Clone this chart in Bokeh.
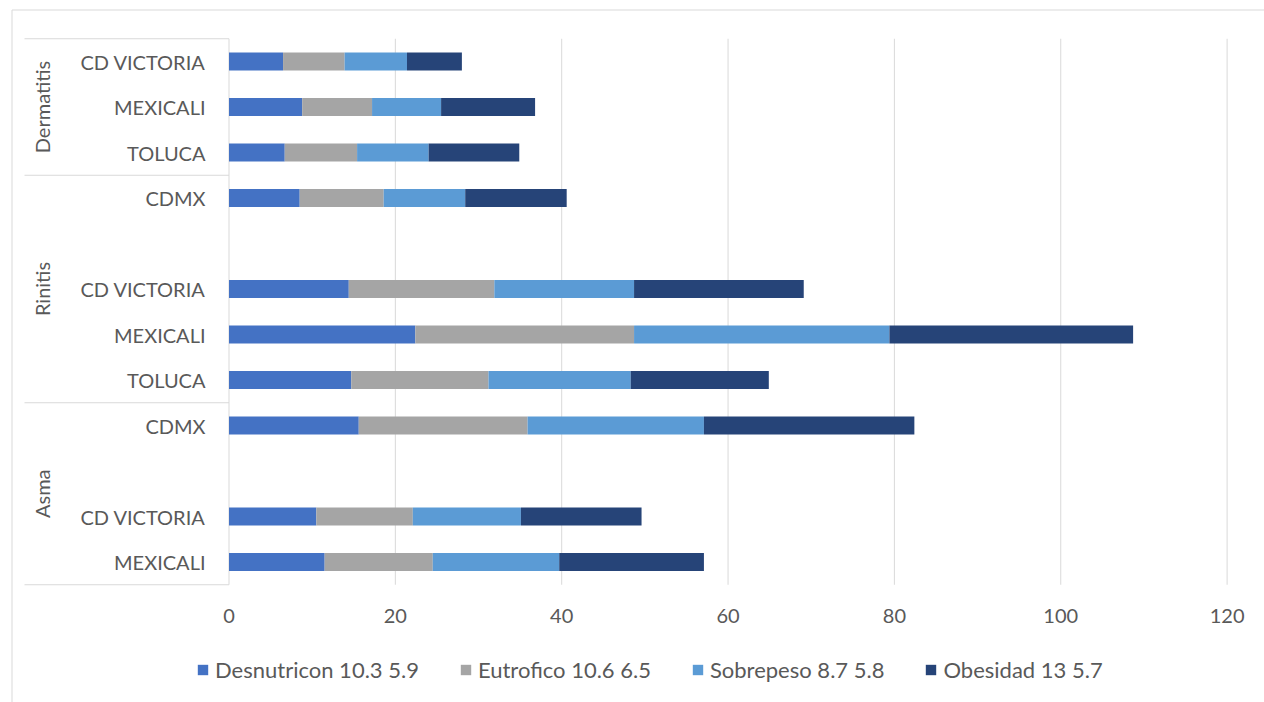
import math
from bokeh.plotting import figure
from bokeh.models import ColumnDataSource, Range1d, Legend, LegendItem
from bokeh.embed import file_html
from bokeh.resources import INLINE
from bokeh.core.properties import value

# ---------------- data (bottom row first) ----------------
groups = ["Asma", "Asma", "Asma", "Asma",
          "Rinitis", "Rinitis", "Rinitis", "Rinitis", "Rinitis",
          "Dermatitis", "Dermatitis", "Dermatitis"]
cities = ["MEXICALI", "CD VICTORIA", "", "CDMX",
          "TOLUCA", "MEXICALI", "CD VICTORIA", "", "CDMX",
          "TOLUCA", "MEXICALI", "CD VICTORIA"]
series = ["Desnutricon 10.3 5.9", "Eutrofico 10.6 6.5",
          "Sobrepeso 8.7 5.8", "Obesidad 13 5.7"]
desnutricion = [11.5, 10.5, 0, 15.6, 14.7, 22.4, 14.4, 0, 8.5, 6.7, 8.8, 6.5]
eutrofico = [13.0, 11.6, 0, 20.3, 16.5, 26.3, 17.5, 0, 10.1, 8.7, 8.4, 7.4]
sobrepeso = [15.2, 13.0, 0, 21.2, 17.1, 30.7, 16.8, 0, 9.8, 8.6, 8.3, 7.5]
obesidad = [17.4, 14.5, 0, 25.3, 16.6, 29.3, 20.4, 0, 12.2, 10.9, 11.3, 6.6]
x_ticks = [0, 20, 40, 60, 80, 100, 120]

colors = ["#4472C4", "#A5A5A5", "#5B9BD5", "#264478"]
TEXT = "#595959"
GRID = "#D9D9D9"
FONT = "Lato"
FS = "20px"

# ---------------- layout helpers (pixels -> data) ----------------
W, H = 1264, 702
X0_PX = 228.5
KX = (1226.6 - X0_PX) / 120.0
ROW_PX = 45.5
ROW0_PX = 561.5


def px_x(px):
    return (px - X0_PX) / KX


def px_y(py):
    return (ROW0_PX - py) / ROW_PX


rows = list(range(len(cities)))
n = len(cities)
src = ColumnDataSource(dict(y=rows, d=desnutricion, e=eutrofico,
                            s=sobrepeso, o=obesidad))

p = figure(width=W, height=H, output_backend="svg", toolbar_location=None,
           x_range=Range1d(px_x(0), px_x(W)),
           y_range=Range1d(px_y(H), px_y(0)),
           x_axis_location=None, y_axis_location=None,
           min_border=0)
p.outline_line_color = None
p.xgrid.visible = False
p.ygrid.visible = False
p.background_fill_color = "white"
p.border_fill_color = "white"

# outer chart border (left and top)
p.segment(x0=[px_x(11.5), px_x(11.5)], y0=[px_y(9.5), px_y(9.5)],
          x1=[px_x(11.5), px_x(W + 5)], y1=[px_y(H + 5), px_y(9.5)],
          line_color=GRID, line_width=1)

# gridlines (value axis)
p.segment(x0=x_ticks, x1=x_ticks, y0=[-0.5] * len(x_ticks), y1=[n - 0.5] * len(x_ticks),
          line_color=GRID, line_width=1)

# group separators in category area
bounds = [-0.5] + [i + 0.5 for i in range(n - 1) if groups[i] != groups[i + 1]] + [n - 0.5]
p.segment(x0=[px_x(24)] * len(bounds), x1=[0] * len(bounds), y0=bounds, y1=bounds,
          line_color=GRID, line_width=1)

# stacked bars
renderers = p.hbar_stack(["d", "e", "s", "o"], y="y", height=0.4, color=colors,
                         line_color=None, source=src)

# category labels
p.text(x=[px_x(205)] * n, y=rows, text=cities, text_align="right",
       text_baseline="middle", text_font=value(FONT), text_font_size=FS,
       text_color=TEXT)

group_names = []
for g in groups:
    if g not in group_names:
        group_names.append(g)
group_centers = [sum(i for i in rows if groups[i] == g) / groups.count(g) for g in group_names]
p.text(x=[px_x(41)] * len(group_names), y=group_centers, text=group_names,
       angle=math.pi / 2, text_align="center", text_baseline="middle",
       text_font=value(FONT), text_font_size=FS, text_color=TEXT)

# value-axis tick labels
p.text(x=x_ticks, y=[px_y(615)] * len(x_ticks), text=[str(t) for t in x_ticks],
       text_align="center", text_baseline="middle",
       text_font=value(FONT), text_font_size=FS, text_color=TEXT)

# legend
items = [LegendItem(label=s, renderers=[r]) for s, r in zip(series, renderers)]
legend = Legend(items=items, orientation="horizontal", location=(196, 19),
                spacing=40, glyph_width=13, glyph_height=13, label_standoff=6,
                label_text_font=FONT, label_text_font_size="22px",
                label_text_color=TEXT, border_line_color=None,
                background_fill_alpha=0, padding=0, margin=0)
p.add_layout(legend)

open("out.html", "w").write(file_html(p, INLINE))
